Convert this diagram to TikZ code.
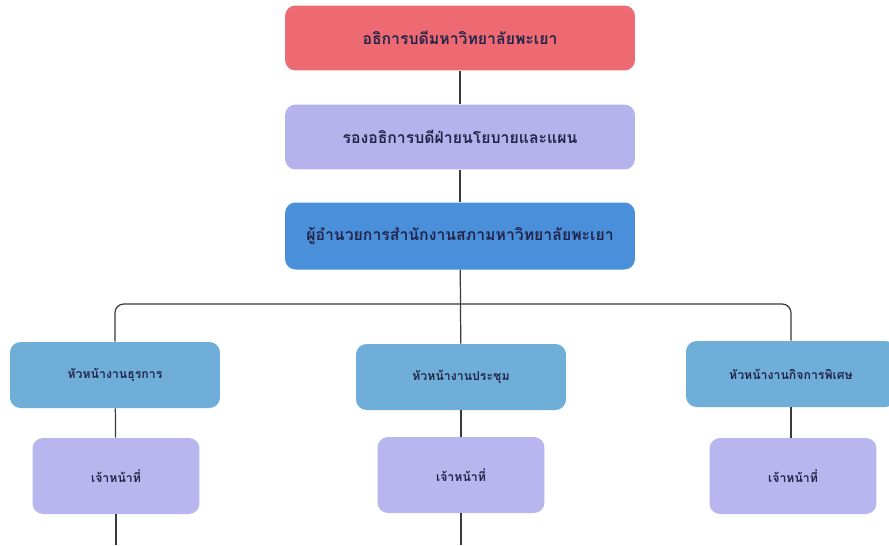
\documentclass[tikz,border=0pt]{standalone}
\usepackage{fontspec}
\usepackage{tikz}
\usepackage{xcolor}
\newfontfamily\thaifont[Script=Thai]{Loma}

\definecolor{rectorred}{HTML}{EE6A72}
\definecolor{vplav}{HTML}{B6B2EC}
\definecolor{dirblue}{HTML}{4A8FDA}
\definecolor{headteal}{HTML}{6FAED8}
\definecolor{stafflav}{HTML}{B9B5EE}
\definecolor{inkblue}{HTML}{23254A}
\definecolor{linegray}{HTML}{3A3A3A}

\begin{document}
\begin{tikzpicture}[x=0.02cm, y=-0.02cm,
  box/.style={rounded corners=6pt, text=inkblue, font=\thaifont\bfseries, align=center},
  topbox/.style={box, minimum width=7cm, minimum height=1.3cm, font=\thaifont\bfseries\small},
  headbox/.style={box, fill=headteal, minimum width=4.2cm, minimum height=1.32cm, font=\thaifont\bfseries\scriptsize},
  staffbox/.style={box, fill=stafflav, minimum width=3.34cm, minimum height=1.52cm, font=\thaifont\bfseries\scriptsize},
  conn/.style={draw=linegray, line width=0.7pt}]
\clip (0,0) rectangle (889,545);
\fill[white] (0,0) rectangle (889,545);

% top of the chart
\node [topbox, fill=rectorred] (rector) at (460,38) {อธิการบดีมหาวิทยาลัยพะเยา};
\node [topbox, fill=vplav] (vp) at (460,137) {รองอธิการบดีฝ่ายนโยบายและแผน};
\node [topbox, fill=dirblue, minimum height=1.34cm] (dir) at (460,236) {ผู้อำนวยการสำนักงานสภามหาวิทยาลัยพะเยา};

% heads of sections
\node [headbox] (admin) at (115,375) {หัวหน้างานธุรการ};
\node [headbox] (meet) at (461,377) {หัวหน้างานประชุม};
\node [headbox] (special) at (791,374) {หัวหน้างานกิจการพิเศษ};

% staff
\node [staffbox] (staffa) at (116,476) {เจ้าหน้าที่};
\node [staffbox] (staffb) at (461,475) {เจ้าหน้าที่};
\node [staffbox] (staffc) at (793,476) {เจ้าหน้าที่};

\coordinate (bar) at (460,304);
\coordinate (enda) at (116,545);
\coordinate (endb) at (461,545);

\draw [conn] (rector) -- (vp);
\draw [conn] (vp) -- (dir);
\draw [conn] (dir) -- (meet);
\draw [conn, rounded corners=5pt] (bar) -| (admin.north);
\draw [conn, rounded corners=5pt] (bar) -| (special.north);
\draw [conn] (admin) -- (staffa);
\draw [conn] (meet) -- (staffb);
\draw [conn] (special.south) -- (staffc.north -| special.south);
\draw [conn] (staffa) -- (enda);
\draw [conn] (staffb) -- (endb);
\end{tikzpicture}
\end{document}
